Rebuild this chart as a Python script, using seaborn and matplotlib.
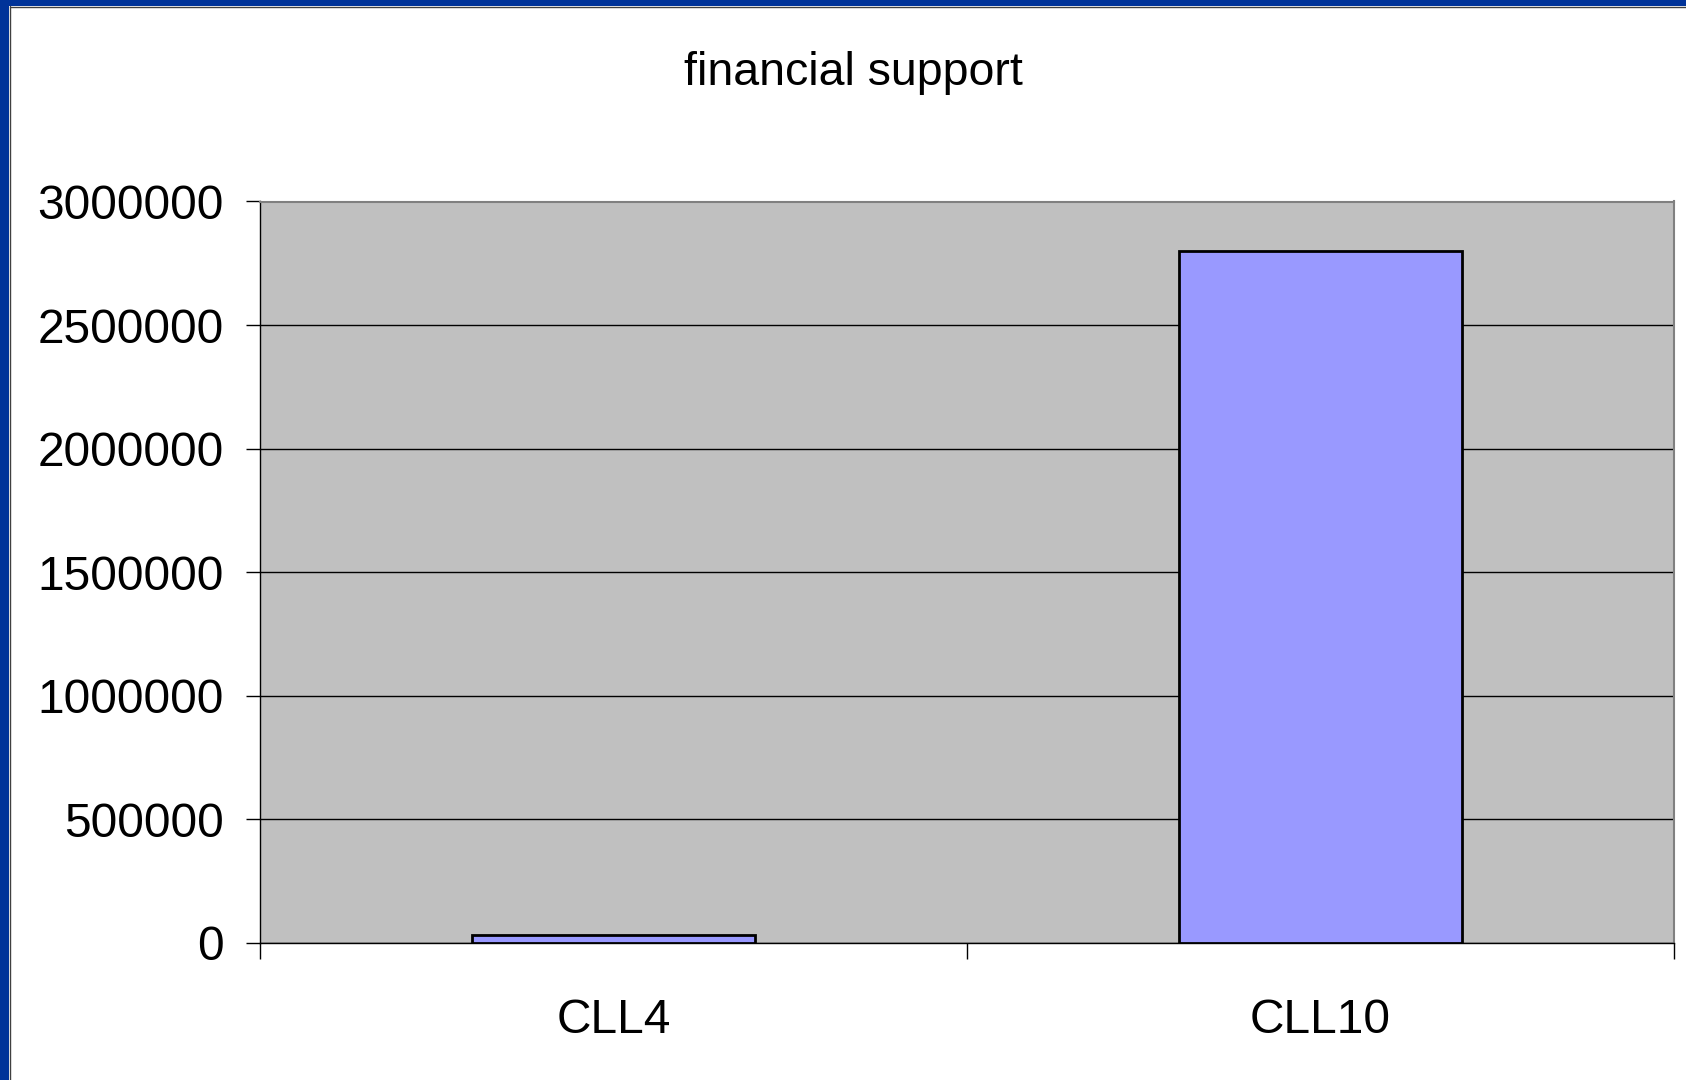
import matplotlib
matplotlib.use("Agg")
import matplotlib.pyplot as plt
import seaborn as sns
import pandas as pd
from matplotlib.patches import Rectangle
from matplotlib.ticker import FixedLocator

categories = ["CLL4", "CLL10"]
support = [33000, 2800000]
title = "financial support"
y_ticks = [0, 500000, 1000000, 1500000, 2000000, 2500000, 3000000]

sns.set_theme(style="white")
plt.rcParams["font.family"] = ["Liberation Sans", "DejaVu Sans"]
plt.rcParams["text.color"] = "black"
plt.rcParams["xtick.color"] = "black"
plt.rcParams["ytick.color"] = "black"
plt.rcParams["xtick.labelcolor"] = "black"
plt.rcParams["ytick.labelcolor"] = "black"

W, H = 1686, 1080
fig = plt.figure(figsize=(W / 100, H / 100), dpi=100)
fig.patch.set_facecolor("white")

# slide-style blue border (left and top)
fig.patches.append(Rectangle((0, 0), 9 / W, 1, transform=fig.transFigure,
                             facecolor="#003399", edgecolor="none", zorder=0))
fig.patches.append(Rectangle((0, 1 - 6 / H), 1, 6 / H, transform=fig.transFigure,
                             facecolor="#003399", edgecolor="none", zorder=0))
fig.add_artist(plt.Line2D([9.5 / W, 9.5 / W], [0, 1 - 6 / H], transform=fig.transFigure,
                          color="#404040", lw=1))
fig.add_artist(plt.Line2D([9.5 / W, 1], [1 - 6.5 / H, 1 - 6.5 / H], transform=fig.transFigure,
                          color="#404040", lw=1))

left, right = 260 / W, 1674 / W
bottom, top = 1 - 943 / H, 1 - 201.5 / H
ax = fig.add_axes([left, bottom, right - left, top - bottom])
ax.set_facecolor("#C0C0C0")

df = pd.DataFrame({"cat": categories, "value": support})
sns.barplot(data=df, x="cat", y="value", color="#9999FF", saturation=1,
            edgecolor="black", linewidth=2, width=0.4, ax=ax, zorder=3)

ax.set_ylim(0, 3000000)
ax.set_xlim(-0.5, 1.5)
ax.set_yticks(y_ticks)
ax.set_yticklabels([str(v) for v in y_ticks])
ax.yaxis.grid(True, color="black", linewidth=1, zorder=1)
ax.set_axisbelow(True)

ax.set_xticks([0, 1])
ax.set_xticklabels(categories)
ax.xaxis.set_minor_locator(FixedLocator([-0.5, 0.5, 1.5]))
ax.tick_params(axis="x", which="major", length=0, pad=29 * 0.72 + 11 + 8, labelsize=34.5,
               labelcolor="black")
ax.tick_params(axis="x", which="minor", length=11.5, width=1, color="black", direction="out", bottom=True)
ax.tick_params(axis="y", which="major", length=10, width=1, color="black", direction="out",
               pad=16, labelsize=34.5, left=True, labelcolor="black")

ax.set_xlabel("")
ax.set_ylabel("")

for s in ["left", "bottom"]:
    ax.spines[s].set_color("black")
    ax.spines[s].set_linewidth(1)
for s in ["top", "right"]:
    ax.spines[s].set_color("#808080")
    ax.spines[s].set_linewidth(1.5)

fig.text(853 / W, 1 - 85 / H, title, ha="center", va="baseline", fontsize=33.5, color="black")

fig.savefig("out.png", dpi=100)
